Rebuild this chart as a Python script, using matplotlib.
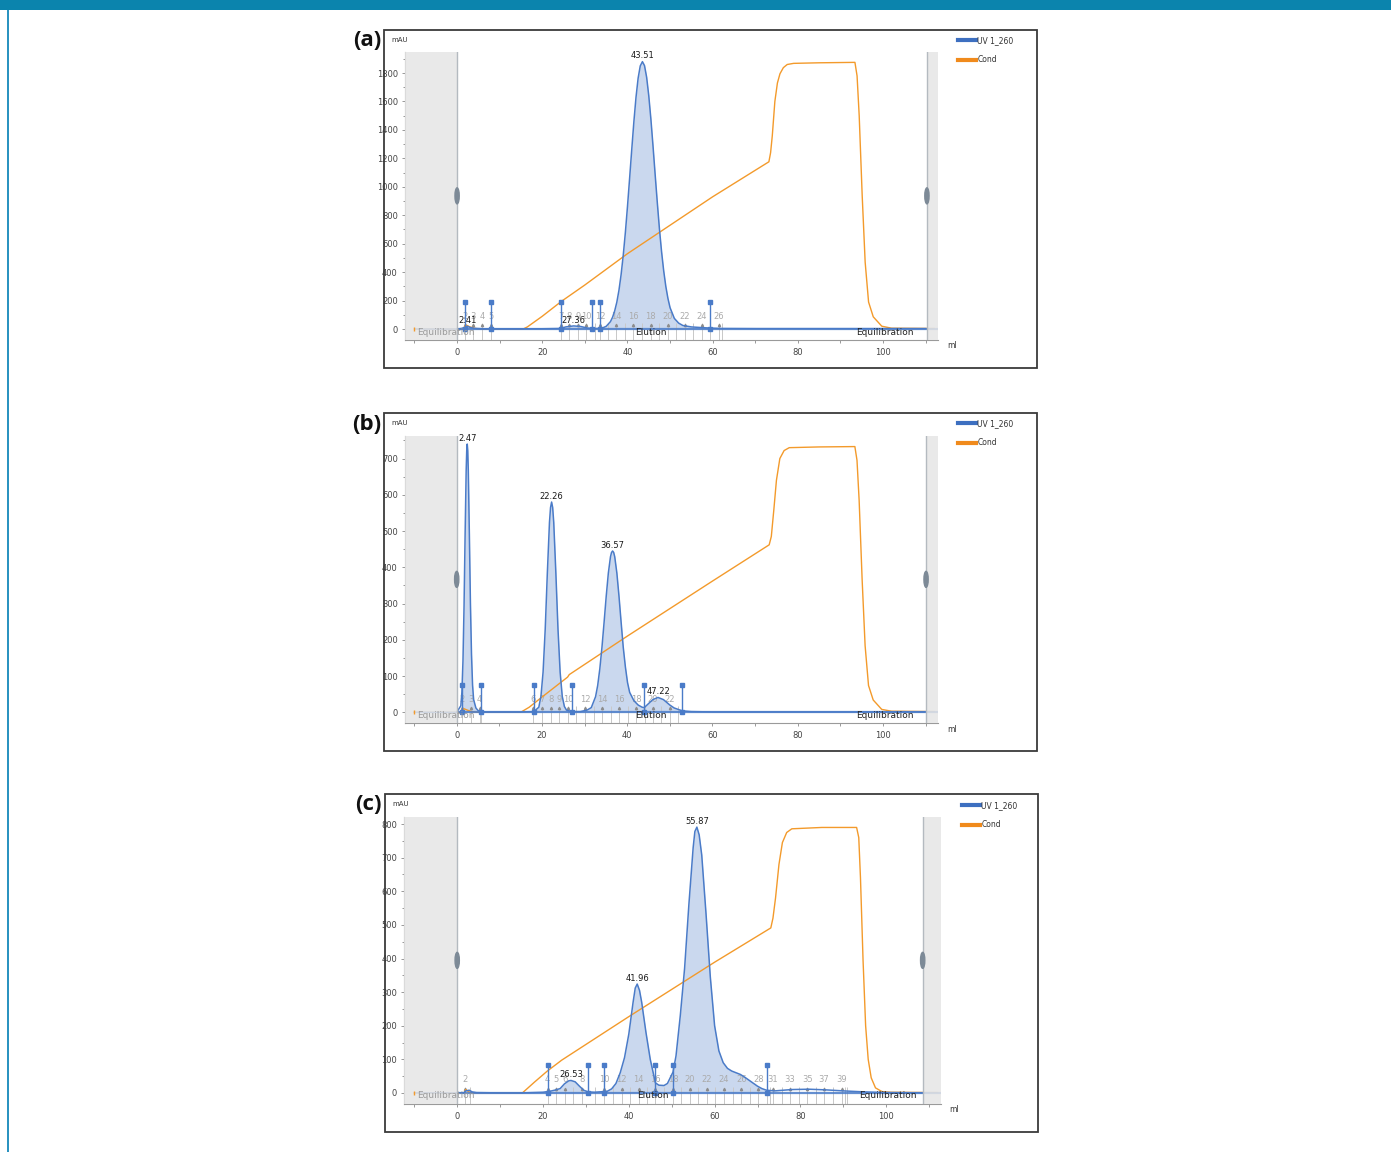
import numpy as np
import matplotlib.pyplot as plt
from matplotlib import font_manager
from matplotlib.patches import Rectangle, Ellipse
from matplotlib.lines import Line2D

W, H = 1391, 1152

installed = {f.name for f in font_manager.fontManager.ttflist}
narrow = 'Liberation Sans Narrow' if 'Liberation Sans Narrow' in installed else 'DejaVu Sans'
plt.rcParams['font.family'] = [narrow, 'DejaVu Sans']

UV = '#4a7bc8'
FILL = '#cad8ee'
COND = '#f39a2b'

# ---------------- panel (a) ----------------
uv_a_x = [-10, 0, 1.0, 1.9, 2.41, 3.0, 4.0, 6.0, 8.0, 15, 20, 24.3, 25.5, 27.36, 29.0, 30.5, 31.6, 33.6,
          34, 35, 36, 36.5, 37, 37.5, 38, 38.5, 39, 39.5, 40, 40.5, 41, 41.5, 42, 42.5, 43, 43.51,
          44, 44.5, 45, 45.5, 46, 46.5, 47, 47.5, 48, 48.5, 49, 49.5, 50, 51, 52, 53,
          55, 57.5, 59.4, 62, 70, 80, 90, 100, 110]
uv_a_y = [0, 0, 4, 12, 20, 12, 5, 2, 2, 2, 2, 4, 15, 22, 18, 8, 4, 4,
          6, 19, 52, 83, 128, 189, 273, 382, 517, 677, 861, 1059, 1261, 1457, 1629, 1764, 1850, 1880,
          1852, 1770, 1640, 1475, 1285, 1085, 890, 705, 545, 410, 300, 215, 150, 75, 42, 25,
          15, 10, 7, 4, 3, 3, 3, 3, 3]
cond_a_x = [-10, 1.5, 2.0, 3.0, 4.5, 6, 15.5, 16.5, 20, 24.5, 30, 40, 50, 60,
            73.2, 73.6, 74.0, 74.6, 75.2, 75.8, 76.6, 77.5, 79, 85,
            93.4, 93.9, 94.4, 95.1, 95.8, 96.6, 97.7, 99.7, 102, 112]
cond_a_y = [0, 0, 30, 15, 3, 0, 0, 15, 90, 195, 310, 530, 730, 930,
            1176, 1240, 1360, 1600, 1730, 1795, 1838, 1860, 1868, 1872,
            1875, 1780, 1500, 940, 470, 190, 86, 20, 6, 4]
peaks_a = [2.41, 27.36, 43.51]
cuts_a = [1.9, 8.0, 24.3, 31.6, 33.6, 59.4]
fill_a = [(1.9, 8.0), (24.3, 31.6), (31.6, 33.6), (33.6, 59.4)]
frac_a = [(1.9, '2'), (3.8, '3'), (5.8, '4'), (7.9, '5'), (24.3, '7'), (26.3, '8'), (28.3, '9'),
          (30.3, '10'), (32.3, ''), (33.6, '12'), (35.4, ''), (37.3, '14'), (39.4, ''), (41.4, '16'),
          (43.5, ''), (45.5, '18'), (47.5, ''), (49.5, '20'), (51.5, ''), (53.5, '22'), (55.5, ''),
          (57.4, '24'), (59.4, ''), (61.5, '26'), (62.1, '')]

# ---------------- panel (b) ----------------
uv_b_x = [-10, 0, 0.97, 1.22, 1.47, 1.72, 1.97, 2.22, 2.35, 2.47, 2.59, 2.72, 2.97, 3.22, 3.47, 3.72, 3.97,
          4.5, 5.0, 5.6, 7, 10, 15, 18.1, 19.26, 19.76, 20.26, 20.76, 21.26, 21.76, 22.01, 22.26, 22.51,
          22.76, 23.26, 23.76, 24.26, 24.76, 25.26, 25.76, 27.0, 29.0, 30.57, 31.57, 32.57, 33.07, 33.57,
          34.07, 34.57, 35.07, 35.57, 36.07, 36.32, 36.57, 36.82, 37.07, 37.57, 38.07, 38.57, 39.07, 39.57,
          40.07, 40.57, 41.57, 42.57, 43.5, 44.0, 45, 46, 47.22, 48.5, 50, 51, 52.9, 55, 60, 70, 80, 90,
          100, 110]
uv_b_y = [0, 0, 18, 56, 142, 292, 490, 667, 722, 740, 722, 667, 490, 300, 160, 75, 35,
          12, 5, 2, 1, 1, 1, 2, 14, 44, 111, 229, 384, 524, 565, 580, 565,
          524, 384, 229, 111, 44, 16, 6, 2, 2, 6, 13, 43, 74, 120,
          179, 248, 320, 384, 429, 441, 445, 441, 429, 384, 320, 248, 179, 125,
          82, 55, 32, 20, 14, 13, 24, 35, 41, 35, 20, 12, 4, 2, 1, 1, 1, 1,
          1, 1]
cond_b_x = [-10, 1.2, 1.7, 2.5, 3.5, 5, 15, 17, 20, 26.0, 26.4, 40, 60,
            73.3, 73.8, 74.4, 75.0, 75.8, 76.8, 78, 85,
            93.4, 93.9, 94.4, 95.1, 95.8, 96.6, 97.7, 99.7, 102, 112]
cond_b_y = [0, 0, 10, 6, 2, 0, 0, 14, 42, 97, 104, 210, 362,
            462, 485, 560, 640, 700, 722, 730, 732,
            733, 695, 585, 367, 184, 74, 34, 8, 3, 2]
peaks_b = [2.47, 22.26, 36.57, 47.22]
cuts_b = [1.22, 5.6, 18.1, 27.0, 44.0, 52.9]
fill_b = [(1.22, 5.6), (18.1, 27.0), (27.0, 44.0), (44.0, 52.9)]
frac_b = [(1.3, '2'), (3.4, '3'), (5.4, '4'), (5.7, ''), (18.0, '6'), (20.1, '7'), (22.1, '8'),
          (24.1, '9'), (26.2, '10'), (28.1, ''), (30.1, '12'), (32.1, ''), (34.1, '14'), (36.1, ''),
          (38.1, '16'), (40.1, ''), (42.1, '18'), (44.1, ''), (46.0, '20'), (48.0, ''), (50.0, '22'),
          (52.0, '')]

# ---------------- panel (c) ----------------
uv_c_x = [-10, 0, 1.5, 2.0, 2.8, 3.5, 4.5, 10, 15, 20, 21.1, 22, 23, 24, 25, 26, 26.53, 27.5, 28.5, 29.5,
          30.5, 32, 34.2, 35, 36, 37, 38, 39, 40, 41, 41.5, 41.96, 42.5, 43, 44, 45, 46.2, 47, 48.2, 49,
          50.3, 51, 52, 53, 54, 55, 55.4, 55.87, 56.4, 57, 58, 59, 60, 61, 62, 63, 64, 65, 66, 67, 68,
          69, 70, 71, 72.1, 74, 78, 82, 86, 90, 95, 100, 110]
uv_c_y = [0, 0, 0, 6, 8, 3, 1, 0, 0, 2, 4, 6, 9, 13, 27, 36, 37, 33, 20, 8,
          3, 2, 4, 5, 12, 28, 60, 105, 175, 270, 312, 324, 305, 270, 180, 100, 30, 23, 22, 28,
          62, 110, 230, 370, 560, 730, 778, 791, 768, 708, 533, 345, 200, 125, 90, 73, 65, 60, 55, 47, 38,
          29, 20, 13, 8, 6, 10, 11, 9, 6, 3, 1, 0]
cond_c_x = [-10, 1.6, 2.0, 2.6, 3.5, 15.2, 18, 21, 23.9, 24.3, 40, 60,
            73.1, 73.6, 74.2, 75.0, 75.8, 76.8, 78, 85,
            93.1, 93.6, 94.0, 94.6, 95.2, 95.8, 96.5, 97.5, 99, 101, 112]
cond_c_y = [0, 0, 10, 4, 0, 0, 32, 65, 93, 97, 227, 389,
            491, 520, 580, 680, 745, 775, 786, 790,
            790, 760, 640, 395, 200, 100, 45, 15, 4, 2, 1]
peaks_c = [26.53, 41.96, 55.87]
cuts_c = [21.1, 30.5, 34.2, 46.2, 50.3, 72.1]
fill_c = [(21.1, 30.5), (34.2, 46.2), (46.2, 50.3), (50.3, 72.1)]
frac_c = [(1.9, '2'), (2.9, ''), (21.1, '4'), (23.1, '5'), (25.1, '6'), (27.1, ''), (29.2, '8'),
          (32.2, ''), (34.2, '10'), (36.3, ''), (38.3, '12'), (40.3, ''), (42.3, '14'), (44.3, ''),
          (46.2, '16'), (48.3, ''), (50.3, '18'), (52.2, ''), (54.2, '20'), (56.2, ''), (58.2, '22'),
          (60.2, ''), (62.2, '24'), (64.2, ''), (66.2, '26'), (68.2, ''), (70.2, '28'), (72.1, ''),
          (72.8, ''), (73.5, '31'), (75.6, ''), (77.6, '33'), (79.6, ''), (81.6, '35'), (83.6, ''),
          (85.5, '37'), (87.6, ''), (89.6, '39'), (90.4, ''), (90.9, '')]

fig = plt.figure(figsize=(W / 100, H / 100), dpi=100)

# page decoration: teal header bar and left rule
fig.add_artist(Rectangle((0, 1 - 10 / H), 1, 10 / H, transform=fig.transFigure,
                         color='#0b84ad', lw=0))
fig.add_artist(Rectangle((7 / W, 0), 2 / W, 1 - 10 / H, transform=fig.transFigure,
                         color='#2b93c0', lw=0))


def draw_panel(tag, box, area, xlim, ylim, yticks, yminor, band_r,
               uv_x, uv_y, cond_x, cond_y, peaks, cuts, fills, fracs, leg_xy):
    bl, bt, br, bb = box
    fig.add_artist(Rectangle((bl / W, 1 - bb / H), (br - bl) / W, (bb - bt) / H,
                             transform=fig.transFigure, fill=False, ec='#3a3a3a', lw=1.3))
    fig.text((bl - 3) / W, 1 - (bt + 11) / H, tag, ha='right', va='center', fontsize=16,
             fontweight='bold', family=['Open Sans', 'DejaVu Sans'], color='#111')
    fig.text((bl + 7) / W, 1 - (bt + 10) / H, 'mAU', ha='left', va='center', fontsize=5,
             color='#333')

    l, t, r, b = area
    ax = fig.add_axes([l / W, 1 - b / H, (r - l) / W, (b - t) / H])
    ax.set_xlim(xlim)
    ax.set_ylim(ylim)
    ppx = (ylim[1] - ylim[0]) / (b - t)   # data units per pixel
    x = np.array(uv_x, dtype=float)
    y = np.array(uv_y, dtype=float)

    for lo, hi in fills:
        m = (x >= lo) & (x <= hi)
        ax.fill_between(x, y, 0, where=m, color=FILL, lw=0, zorder=1)

    # fraction marks
    fx = [f for f, _ in fracs]
    ax.vlines(fx, ylim[0], 6 * ppx, color='#c8c8c8', lw=0.7, zorder=1.5)
    for f, lab in fracs:
        if lab:
            ax.text(f, 13 * ppx, lab, ha='center', va='center', fontsize=6, color='#ababab', zorder=2)
            ax.plot(f, 4 * ppx, marker='^', ms=1.6, color='#8c8c8c', zorder=2)

    x0 = (0 - xlim[0]) / (xlim[1] - xlim[0])
    ax.plot(cond_x, cond_y, color=COND, lw=1.0, zorder=2.5)
    ax.axhline(0, xmin=x0, color=UV, lw=1.6, alpha=0.85, zorder=2.8)
    ax.plot(x, y, color=UV, lw=1.1, zorder=3)

    # peak cut markers
    ax.vlines(cuts, 0, 27.5 * ppx, color=UV, lw=1.0, zorder=4)
    ax.plot(cuts, [27.5 * ppx] * len(cuts), 's', color=UV, ms=2.2, zorder=4)
    ax.plot(cuts, [0] * len(cuts), 's', color=UV, ms=2.8, zorder=4)

    for p in peaks:
        ax.annotate(f'{p:.2f}', (p, np.interp(p, x, y)), xytext=(0, 1), textcoords='offset points',
                    ha='center', va='bottom', fontsize=6, color='#1a1a1a', zorder=6)

    # inactive regions at both ends
    ax.axvspan(xlim[0], 0, color='#e6e6e6', alpha=0.85, lw=0, zorder=5)
    ax.axvspan(band_r, xlim[1], color='#e6e6e6', alpha=0.85, lw=0, zorder=5)
    ax.axvline(0, color='#b4bac0', lw=1.0, zorder=5.5)
    ax.axvline(band_r, color='#b4bac0', lw=1.0, zorder=5.5)
    ymid = (ylim[0] + ylim[1]) / 2
    for hx in (0, band_r):
        ax.add_patch(Ellipse((hx, ymid), 1.0, 16 * ppx, color='#7d8a97', zorder=6))

    # phase labels
    ax.plot(-10, 0, marker='|', ms=3, color=COND, zorder=6)
    ax.text(-9.3, -3 * ppx, 'Equilibration', ha='left', va='center', fontsize=6.5, color='#9a9a9a', zorder=6)
    ax.text(45.5, -3 * ppx, 'Elution', ha='center', va='center', fontsize=6.5, color='#222', zorder=6)
    ax.text(100.5, -3 * ppx, 'Equilibration', ha='center', va='center', fontsize=6.5, color='#222', zorder=6)

    ax.set_xticks([0, 20, 40, 60, 80, 100])
    ax.set_xticks([-10, 10, 30, 50, 70, 90, 110], minor=True)
    ax.set_yticks(yticks)
    ax.set_yticks(yminor, minor=True)
    ax.tick_params(which='both', direction='out', color='#999999', width=0.7,
                   labelsize=6, labelcolor='#444444')
    ax.tick_params(axis='y', which='major', length=2.5, pad=2.5)
    ax.tick_params(axis='y', which='minor', length=1.5)
    ax.tick_params(axis='x', which='major', length=2.5, pad=3)
    ax.tick_params(axis='x', which='minor', length=2.5)
    for s in ('top', 'right'):
        ax.spines[s].set_visible(False)
    for s in ('left', 'bottom'):
        ax.spines[s].set_color('#9a9a9a')
        ax.spines[s].set_linewidth(0.8)
    ax.set_facecolor('none')

    fig.text((r + 9) / W, 1 - (b + 6) / H, 'ml', ha='left', va='center', fontsize=5.5, color='#333')

    lx, ly = leg_xy
    handles = [Line2D([], [], color='#3d6fc0', lw=3), Line2D([], [], color='#f08a1c', lw=3)]
    fig.legend(handles, ['UV 1_260', 'Cond'], loc='upper left',
               bbox_to_anchor=(lx / W, 1 - (ly - 4) / H), frameon=False, fontsize=5.5,
               handlelength=2.4, handletextpad=0.15, labelspacing=1.35,
               borderpad=0, borderaxespad=0, labelcolor='#333')
    return ax


draw_panel('(a)', (384, 30, 1037, 368), (404.7, 51.7, 938, 340), (-12.3, 112.9), (-77, 1950),
           range(0, 1801, 200), range(100, 1901, 200), 110.3,
           uv_a_x, uv_a_y, cond_a_x, cond_a_y, peaks_a, cuts_a, fill_a, frac_a, (958, 40))
draw_panel('(b)', (384, 413, 1037, 751), (404.7, 435.7, 938, 723), (-12.2, 112.9), (-29.5, 763),
           range(0, 701, 100), range(50, 751, 100), 110.1,
           uv_b_x, uv_b_y, cond_b_x, cond_b_y, peaks_b, cuts_b, fill_b, frac_b, (958, 423))
draw_panel('(c)', (385, 794, 1038, 1132), (404, 816.7, 940.7, 1104), (-12.4, 112.7), (-33, 822),
           range(0, 801, 100), range(50, 751, 100), 108.5,
           uv_c_x, uv_c_y, cond_c_x, cond_c_y, peaks_c, cuts_c, fill_c, frac_c, (962, 805))

fig.savefig('out.png', dpi=100)
